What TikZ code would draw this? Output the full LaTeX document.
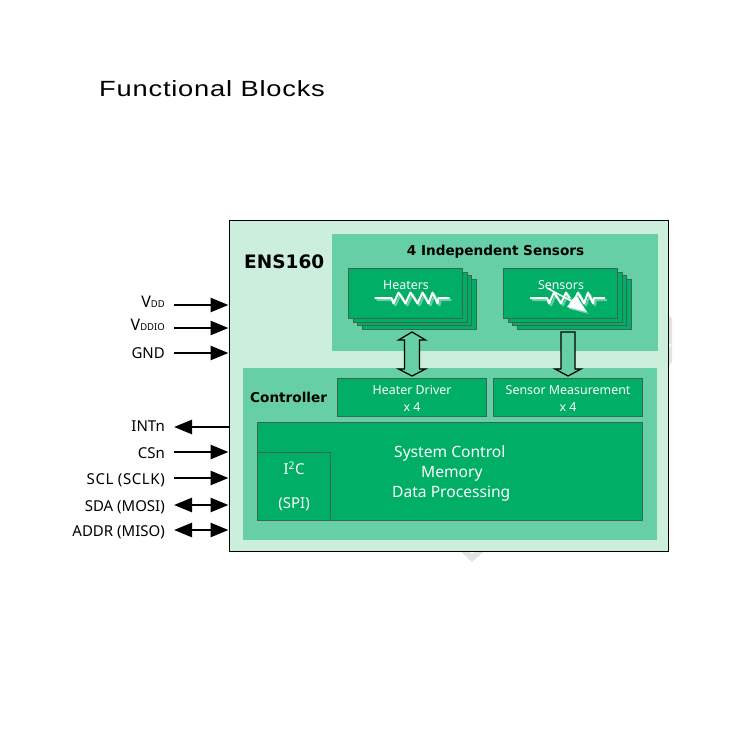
\documentclass[tikz,border=0pt]{standalone}
\usepackage{fontspec}
\setmainfont{Noto Sans}
\newfontfamily\titlefont[FakeStretch=1.24,LetterSpace=3.6]{Liberation Sans}
\newfontfamily\headfont{DejaVu Sans Bold}
\usetikzlibrary{arrows.meta,calc}
\definecolor{gdark}{HTML}{00AE66}
\definecolor{gmid}{HTML}{66CFA6}
\definecolor{glight}{HTML}{CCEEDD}
\definecolor{gedge}{HTML}{3A6654}
\tikzset{
  x=1pt,y=-1pt,
  mainbox/.style={draw=black,line width=1.3pt,fill=glight,inner sep=0pt,anchor=north west},
  panel/.style={fill=gmid,inner sep=0pt,anchor=north west},
  block/.style={draw=gedge,line width=1.1pt,fill=gdark,inner sep=0pt,anchor=north west,text=white,align=center},
  btext/.style={text=white,font=\fontsize{12.4}{17}\selectfont,align=center,inner sep=0pt},
  head/.style={text=black,font=\headfont\fontsize{13.6}{18}\selectfont,inner sep=0pt},
  pinlabel/.style={text=black,font=\fontsize{15}{16}\selectfont,inner sep=0pt,anchor=base east},
  pin/.style={line width=2.6pt,-{Triangle[length=18pt,width=14pt]}},
  pinboth/.style={line width=2.6pt,{Triangle[length=18pt,width=14pt]}-{Triangle[length=18pt,width=14pt]}},
  fat/.style={draw=black,line width=1.2pt,fill=gmid,line join=miter},
  wire/.style={draw=white,line width=2pt,line join=round},
  wireshade/.style={draw=gmid,line width=2pt,line join=round}
}
\newcommand{\zigpath}{(-37,0) -- (-20,0) -- (-18,5.5) -- (-13,-5.5) -- (-6,5.5) -- (-1,-5.5) -- (6,5.5) -- (11,-5.5) -- (17,5.5) -- (21,-5.5) -- (26,5.5) -- (27,0) -- (38,0)}
\begin{document}
\begin{tikzpicture}
\useasboundingbox (0,0) rectangle (750,750);
% faint marks behind the block
\fill[gray!22] (664,313) -- (672,318) -- (672,345) -- (664,340) -- cycle;
\fill[gray!22] (664,350) -- (672,345) -- (672,362) -- (664,372) -- cycle;
\fill[gray!22] (458,549) -- (472,562) -- (487,549) -- (478,549) -- (472,554) -- (467,549) -- cycle;
\node[anchor=base west,inner sep=0pt,text=black,font=\titlefont\fontsize{22}{24}\selectfont] (title) at (99,96) {Functional Blocks};
% main
\node[mainbox,minimum width=439pt,minimum height=331pt] (main) at (228.5,219.5) {};
\node[head,font=\headfont\fontsize{18.5}{24}\selectfont,anchor=base west] (ens) at (244,268) {ENS160};
\node[panel,minimum width=326pt,minimum height=117pt] (sp) at (332,234) {};
\node[head,anchor=base] (sptitle) at (495.5,255) {4 Independent Sensors};
\node[panel,minimum width=414pt,minimum height=172pt] (cp) at (243,368) {};
\node[head,anchor=base west] (cptitle) at (250,402) {Controller};
% heaters stack
\node[block,minimum width=114pt,minimum height=50pt] (h3) at (362,279) {};
\node[block,minimum width=114pt,minimum height=50pt] (h2) at (357,275) {};
\node[block,minimum width=114pt,minimum height=50pt] (h1) at (353,272) {};
\node[block,minimum width=114pt,minimum height=50pt] (h0) at (348,268) {};
\node[btext,anchor=base] (htext) at (406,289) {Heaters};
% sensors stack
\node[block,minimum width=114pt,minimum height=50pt] (s3) at (517,279) {};
\node[block,minimum width=114pt,minimum height=50pt] (s2) at (512,275) {};
\node[block,minimum width=114pt,minimum height=50pt] (s1) at (508,272) {};
\node[block,minimum width=114pt,minimum height=50pt] (s0) at (503,268) {};
\node[btext,anchor=base] (stext) at (561,289) {Sensors};
% resistors
\begin{scope}[shift={(411.5,298)}]
\draw[wireshade,shift={(2,2)}] \zigpath;
\draw[wire] \zigpath;
\end{scope}
\begin{scope}[shift={(567,298)}]
\draw[wireshade,shift={(2,2)}] \zigpath;
\draw[wire] \zigpath;
\end{scope}
\fill[gmid] (570,297) -- (589,314) -- (569,309) -- cycle;
\draw[white,line width=1.5pt] (547,288) -- (575,303);
\fill[white] (587,312) -- (576,295) -- (567,307) -- cycle;
% lower blocks
\node[block,minimum width=149pt,minimum height=38pt] (hd) at (337,378) {};
\node[btext,anchor=center] at ($(hd.center)+(0,1)$) {Heater Driver\\x 4};
\node[block,minimum width=149pt,minimum height=38pt] (sm) at (493,378) {};
\node[btext,anchor=center] at ($(sm.center)+(0,1)$) {Sensor Measurement\\x 4};
\node[block,minimum width=385pt,minimum height=98pt] (sys) at (257,422) {};
\node[btext,font=\fontsize{15.6}{20}\selectfont,align=left,anchor=north west] (systext) at (392,445) {\hspace*{2pt}System Control\\\hspace*{29pt}Memory\\Data Processing};
\node[block,minimum width=73pt,minimum height=68pt] (i2c) at (257,452) {};
\node[btext,font=\fontsize{15}{20}\selectfont,anchor=center] (i2ca) at ($(i2c.center)+(0,-18)$) {I$^{\mathrm 2}$C};
\node[btext,font=\fontsize{15}{20}\selectfont,anchor=center] (i2cb) at ($(i2c.center)+(0,17.5)$) {(SPI)};
% fat arrows
\draw[fat,shift={(hd.north)}] (0,-2) -- (13.5,-9) -- (7.5,-9) -- (7.5,-38) -- (13.5,-38) -- (0,-46) -- (-13.5,-38) -- (-7.5,-38) -- (-7.5,-9) -- (-13.5,-9) -- cycle;
\draw[fat,shift={(sm.north)}] (0,-2) -- (13,-9) -- (7,-9) -- (7,-46) -- (-7,-46) -- (-7,-9) -- (-13,-9) -- cycle;
% pins
\foreach \n/\y in {vdd/305,vddio/328,gnd/353,intn/427,csn/452,scl/478,sda/505,addr/530}{
  \coordinate (\n) at (174,\y);
  \coordinate (\n m) at (main.west |- \n);
}
\node[pinlabel] (lvdd) at (165,307) {{\fontsize{16}{16}\selectfont V}{\fontsize{9.5}{11}\selectfont DD}};
\node[pinlabel] (lvddio) at (165,330) {{\fontsize{16}{16}\selectfont V}{\fontsize{9.5}{11}\selectfont DDIO}};
\node[pinlabel] (lgnd) at (165,358.5) {GND};
\node[pinlabel] (lintn) at (165,431.5) {INTn};
\node[pinlabel] (lcsn) at (165,458) {CSn};
\node[pinlabel] (lscl) at (165,484.5) {\addfontfeature{LetterSpace=4}SCL (SCLK)};
\node[pinlabel] (lsda) at (165,511) {SDA (MOSI)};
\node[pinlabel] (laddr) at (165,536) {ADDR (MISO)};
\draw[pin] (vdd) -- (vddm);
\draw[pin] (vddio) -- (vddiom);
\draw[pin] (gnd) -- (gndm);
\draw[pin] (intnm) -- (intn);
\draw[pin] (csn) -- (csnm);
\draw[pin] (scl) -- (sclm);
\draw[pinboth] (sda) -- (sdam);
\draw[pinboth] (addr) -- (addrm);
\end{tikzpicture}
\end{document}
